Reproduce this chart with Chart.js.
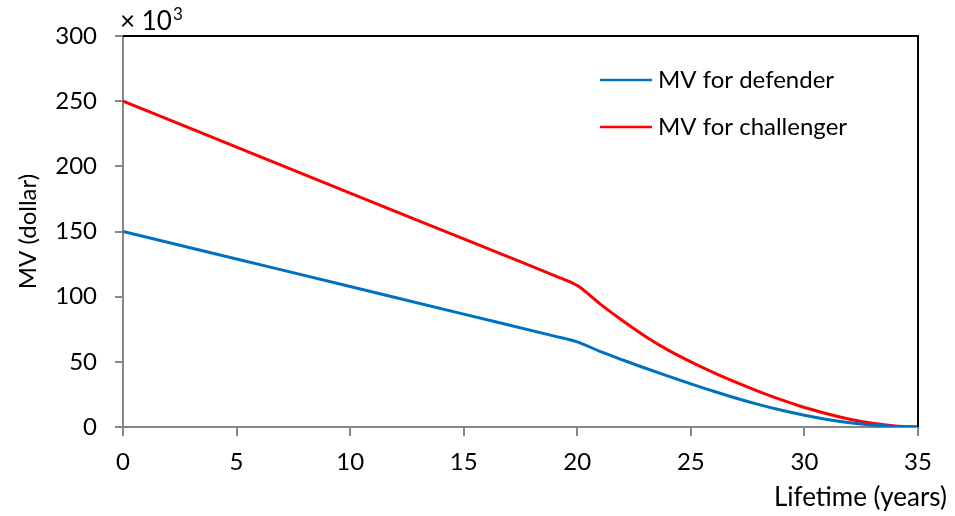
<!DOCTYPE html>
<html>
<head>
<meta charset="utf-8">
<script src="https://cdn.jsdelivr.net/npm/chart.js@4/dist/chart.umd.min.js"></script>
<style>
  html, body { margin: 0; padding: 0; background: #fff; }
  #wrap { width: 955px; height: 516px; }
</style>
</head>
<body>
<div id="wrap"><canvas id="myChart" width="955" height="516"></canvas></div>
<script>
// lifetime in years, MV in thousands of dollars
var years = [0, 5, 10, 15, 19, 20, 21, 22, 23, 24, 25, 26, 27, 28, 29, 30, 31, 32, 33, 34, 35];
var mvDefender = [150, 128.9, 107.8, 86.6, 69.7, 65.3, 58, 51.4, 45.1, 39, 33.1, 27.4, 22.1, 17.2, 12.8, 9, 5.8, 3.3, 1.5, 0.4, 0];
var mvChallenger = [250, 214.8, 179.5, 144.3, 116.1, 108.5, 94.5, 81.5, 69.5, 59, 50, 41.8, 34.2, 27.2, 20.8, 15, 10.2, 6, 2.8, 0.8, 0];
var xTicks = [0, 5, 10, 15, 20, 25, 30, 35];
var yTicks = [0, 50, 100, 150, 200, 250, 300];

var FONT = "Lato, 'Noto Sans', sans-serif";
var GREY = "#878787";

function toPoints(xs, ys) {
    var pts = [];
    for (var i = 0; i < xs.length; i++) pts.push({x: xs[i], y: ys[i]});
    return pts;
}

var extras = {
    id: "extras",
    afterDatasetsDraw: function(chart) {
        var ctx = chart.ctx;
        var a = chart.chartArea;
        ctx.save();
        // black top and right frame
        ctx.strokeStyle = "#000";
        ctx.lineWidth = 2;
        ctx.beginPath();
        ctx.moveTo(a.left, a.top);
        ctx.lineTo(a.right, a.top);
        ctx.lineTo(a.right, a.bottom);
        ctx.stroke();

        // legend inside the plot
        var ds = chart.data.datasets;
        ctx.font = "24px " + FONT;
        ctx.textBaseline = "middle";
        ctx.textAlign = "left";
        for (var i = 0; i < ds.length; i++) {
            var ly = 80 + i * 47;
            ctx.strokeStyle = ds[i].borderColor;
            ctx.lineWidth = 2.5;
            ctx.beginPath();
            ctx.moveTo(600, ly);
            ctx.lineTo(652, ly);
            ctx.stroke();
            ctx.fillStyle = "#000";
            ctx.fillText(ds[i].label, 658, ly);
        }

        // multiplier above the y axis
        ctx.textBaseline = "alphabetic";
        ctx.font = "26px " + FONT;
        ctx.fillText("\u00d7 10", a.left - 3, 30);
        var w = ctx.measureText("\u00d7 10").width;
        ctx.font = "17px " + FONT;
        ctx.fillText("3", a.left - 3 + w + 1, 20);

        // x axis title, right aligned past the plot edge
        ctx.font = "26px " + FONT;
        ctx.textAlign = "right";
        ctx.fillText("Lifetime (years)", 947, 506);
        ctx.restore();
    }
};

new Chart(document.getElementById("myChart"), {
    type: "line",
    data: {
        datasets: [{
            label: "MV for defender",
            data: toPoints(years, mvDefender),
            borderColor: "#0070C0",
            borderWidth: 3,
            pointRadius: 0,
            fill: false,
            cubicInterpolationMode: "monotone"
        },
        {
            label: "MV for challenger",
            data: toPoints(years, mvChallenger),
            borderColor: "#FF0000",
            borderWidth: 3,
            pointRadius: 0,
            fill: false,
            cubicInterpolationMode: "monotone"
        }]
    },
    options: {
        responsive: false,
        animation: false,
        layout: {padding: {left: 0, right: 37, top: 36, bottom: 0}},
        plugins: {
            legend: {display: false},
            tooltip: {enabled: false}
        },
        scales: {
            x: {
                type: "linear",
                min: 0,
                max: 35,
                afterBuildTicks: function(scale) {
                    scale.ticks = xTicks.map(function(v) { return {value: v}; });
                },
                afterFit: function(scale) { scale.height = 89; },
                grid: {drawOnChartArea: false, drawTicks: true, tickLength: 9, color: GREY, lineWidth: 2},
                border: {color: GREY, width: 2},
                ticks: {color: "#000", font: {family: FONT, size: 24}, padding: 12, maxRotation: 0}
            },
            y: {
                min: 0,
                max: 300,
                afterBuildTicks: function(scale) {
                    scale.ticks = yTicks.map(function(v) { return {value: v}; });
                },
                afterFit: function(scale) { scale.width = 123; },
                grid: {drawOnChartArea: false, drawTicks: true, tickLength: 8, color: GREY, lineWidth: 2},
                border: {color: GREY, width: 2},
                ticks: {color: "#000", font: {family: FONT, size: 24}, padding: 18},
                title: {display: true, text: "MV (dollar)", color: "#000", font: {family: FONT, size: 24}, padding: {top: 14, bottom: 0}}
            }
        }
    },
    plugins: [extras]
});
</script>
</body>
</html>
